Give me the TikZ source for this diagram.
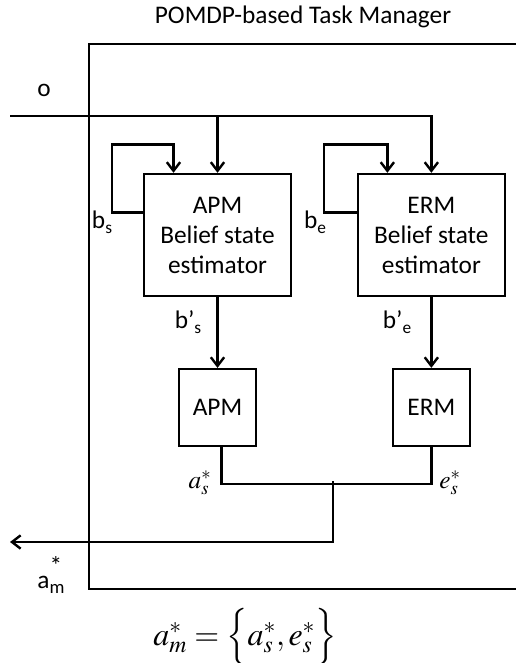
\documentclass[tikz,border=0pt]{standalone}
\usepackage{mathptmx}
\usepackage{fontspec}
\setmainfont{Carlito}
\usepackage{tikz}
\usetikzlibrary{arrows.meta,positioning}
\newcommand{\lowidx}[2]{#1\raisebox{-0.45ex}{\fontsize{13}{13}\selectfont #2}}
\tikzset{
  estbox/.style={
    draw,line width=1.8pt,inner sep=0pt,
    minimum width=110pt,minimum height=91.5pt,
    align=center,font=\fontsize{19}{22.5}\selectfont
  },
  modelbox/.style={
    draw,line width=1.8pt,inner sep=0pt,
    minimum width=57.75pt,minimum height=57.75pt,
    align=center,font=\fontsize{19}{22.5}\selectfont
  },
  lbl/.style={inner sep=0pt,font=\fontsize{19}{22.5}\selectfont},
  mathlbl/.style={inner sep=0pt,font=\fontsize{19}{22}\selectfont},
  wire/.style={line width=1.8pt},
  flow/.style={-{Straight Barb[length=6.5pt,width=10pt]},line width=1.8pt}
}

\begin{document}
\begin{tikzpicture}[x=0.75pt,y=-0.75pt]
\useasboundingbox (0,0) rectangle (516,663);

\node[lbl] (title) at (303,17) {POMDP-based Task Manager};
\draw[wire] (516,44) -- (89,44) -- (89,589) -- (516,589);

\node[estbox] (apmest) at (217.5,235) {APM\\Belief state\\estimator};
\node[estbox,right=48.6pt of apmest] (ermest) {ERM\\Belief state\\estimator};
\node[modelbox,below=53pt of apmest] (apm) {APM};
\node[modelbox,below=53pt of ermest] (erm) {ERM};

% observation
\coordinate (oin) at (10,116);
\node[lbl] (olbl) at (44,90) {o};
\draw[flow] (oin) -| (ermest.north);
\draw[flow] (oin -| apmest.north) -- (apmest.north);

% belief feedback
\draw[flow] ([yshift=17pt]apmest.west) -- ++(-31,0) -- ++(0,-68) -| ([xshift=-33pt]apmest.north);
\draw[flow] ([yshift=17pt]ermest.west) -- ++(-33,0) -- ++(0,-68) -| ([xshift=-33pt]ermest.north);
\node[lbl] (bs) at (102,222) {\lowidx{b}{s}};
\node[lbl] (be) at (315,222) {\lowidx{b}{e}};

\draw[flow] (apmest) -- (apm);
\draw[flow] (ermest) -- (erm);
\node[lbl] (bps) at (188,322) {\lowidx{b\symbol{"27}}{s}};
\node[lbl] (bpe) at (397,322) {\lowidx{b\symbol{"27}}{e}};

% actions
\draw[wire] ([xshift=3pt]apm.south) -- ++(0,37) -| (erm.south);
\node[mathlbl] (as) at (200,483) {$a_s^*$};
\node[mathlbl] (es) at (450,483) {$e_s^*$};
\coordinate (merge) at (333,481);
\coordinate (aout) at (10,542);
\draw[flow] (merge) |- (aout);
\node[lbl] (am) at (51,575) {a\rlap{\raisebox{1.2ex}{*}}\raisebox{-0.4ex}{\fontsize{14}{14}\selectfont m}};

\node[font=\fontsize{24}{30}\selectfont] (eq) at (245,637) {$a_m^* = \Bigl\{a_s^*, e_s^*\Bigr\}$};
\end{tikzpicture}
\end{document}
